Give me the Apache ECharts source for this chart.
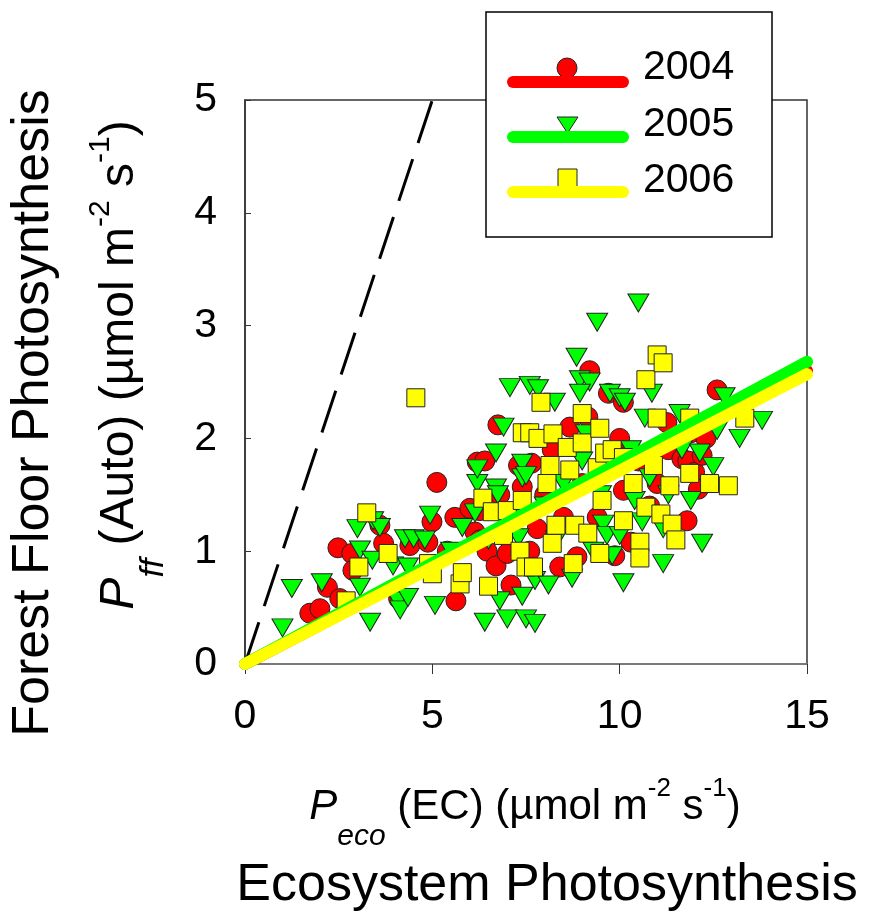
<!DOCTYPE html>
<html>
<head>
<meta charset="utf-8">
<script src="https://cdn.jsdelivr.net/npm/echarts@6/dist/echarts.min.js"></script>
<style>
  html, body { margin: 0; padding: 0; background: #fff; }
  #chart { width: 869px; height: 916px; }
</style>
</head>
<body>
<div id="chart"></div>
<script>
// P_eco (EC) vs P_ff (Auto), one point list per year
var years = ['2004', '2005', '2006'];

var pts2004 = [
  [1.73,0.45],[2.0,0.49],[2.2,0.68],[2.53,0.58],[2.48,1.03],[2.85,0.98],[2.88,0.83],[3.6,1.23],
  [3.7,1.07],[4.1,0.58],[4.4,1.05],[4.88,1.08],[4.99,1.26],[5.12,1.61],[5.63,0.56],[5.4,1.0],
  [5.6,1.3],[6.0,1.38],[6.27,1.36],[6.14,1.17],[6.27,1.1],[6.46,1.0],[6.7,0.87],[7.0,0.98],
  [7.1,0.7],[6.2,1.79],[6.4,1.8],[6.75,2.12],[6.8,1.5],[7.3,1.76],[7.4,1.57],[7.65,1.78],
  [7.6,1.0],[7.8,1.2],[8.0,1.5],[8.2,1.9],[8.5,1.3],[8.4,0.86],[8.86,0.95],[8.67,2.1],
  [9.0,1.6],[9.15,2.19],[9.2,2.6],[9.4,1.3],[9.5,1.7],[9.7,2.4],[9.87,0.96],[10.0,2.0],
  [10.1,2.32],[10.1,1.54],[10.3,1.08],[10.5,1.8],[10.8,1.4],[11.0,1.6],[11.26,2.14],[11.3,1.9],
  [11.66,1.82],[11.82,1.8],[11.8,1.27],[11.9,2.05],[12.0,1.7],[12.1,1.55],[12.2,1.85],[12.3,2.0],
  [12.6,2.43]
];

var pts2005 = [
  [1.0,0.32],[1.25,0.67],[2.05,0.72],[3.0,1.2],[3.07,1.01],[3.07,0.68],[3.34,0.37],[3.4,0.92],
  [3.42,1.27],[3.6,1.21],[3.95,0.87],[4.08,0.56],[4.14,0.48],[4.27,1.11],[4.35,0.86],[4.35,0.59],
  [4.5,1.11],[4.8,1.1],[4.94,1.32],[5.07,0.52],[5.5,1.0],[5.8,1.21],[6.14,1.34],[6.2,1.6],
  [6.2,1.73],[6.4,0.37],[6.5,1.1],[6.7,1.87],[6.7,1.56],[6.75,1.5],[6.8,0.56],[6.9,2.1],
  [7.0,0.4],[7.07,2.45],[7.2,1.3],[7.3,1.12],[7.4,1.78],[7.4,1.65],[7.4,0.6],[7.5,0.4],
  [7.5,1.67],[7.6,2.47],[7.74,0.74],[7.74,0.36],[7.82,2.44],[8.0,1.4],[8.1,0.7],[8.27,2.32],
  [8.3,1.1],[8.5,1.6],[8.73,0.76],[8.85,2.72],[8.94,2.52],[9.2,2.5],[8.94,2.4],[9.0,1.8],
  [9.1,2.04],[9.3,1.0],[9.4,3.03],[9.5,1.5],[9.56,1.24],[9.66,1.14],[9.74,2.4],[9.8,0.96],
  [10.0,2.36],[10.0,1.14],[10.1,0.72],[10.14,2.32],[10.3,1.9],[10.4,1.45],[10.5,3.2],[10.6,1.26],
  [10.67,2.18],[10.8,1.65],[10.86,2.4],[11.16,1.2],[11.16,0.89],[11.3,1.5],[11.6,2.22],[11.66,1.9],
  [11.9,1.45],[12.14,1.87],[12.2,1.07],[12.5,1.75],[12.6,2.07],[12.8,2.37],[13.2,2.0],[13.8,2.16]
];

var pts2006 = [
  [2.7,0.56],[3.04,0.86],[3.25,1.34],[3.82,0.98],[4.56,2.36],[4.9,0.89],[5.0,0.8],[5.74,0.71],
  [5.8,0.81],[6.35,1.47],[6.5,0.69],[6.6,1.35],[6.9,1.14],[7.0,1.36],[7.34,1.0],[7.4,2.05],
  [7.4,1.45],[7.5,0.86],[7.6,2.05],[7.7,0.86],[7.82,2.0],[7.9,2.32],[8.06,1.6],[8.14,1.76],
  [8.2,1.07],[8.22,2.04],[8.3,1.23],[8.6,1.92],[8.67,1.72],[8.76,0.89],[8.8,1.23],[9.0,2.22],
  [9.0,1.96],[9.15,1.16],[9.4,1.74],[9.47,2.09],[9.47,0.98],[9.53,1.45],[9.6,1.87],[9.8,1.9],
  [10.1,1.83],[10.1,1.27],[10.36,1.6],[10.54,1.08],[10.54,0.94],[10.7,2.52],[10.7,1.39],[10.9,1.76],
  [11.0,2.74],[11.16,2.67],[11.0,2.18],[11.1,1.33],[11.34,1.58],[11.4,1.24],[11.5,1.1],[11.87,2.18],
  [11.87,1.69],[12.4,1.6],[12.9,1.58],[13.34,2.18]
];

// fitted lines (start and end points) and the 1:1 line
var fit2004 = [[0, 0], [15, 2.6]];
var fit2005 = [[0, 0], [15, 2.68]];
var fit2006 = [[0, 0], [15, 2.57]];
var oneToOne = [[0, 0], [5, 5]];

var xTicks = [0, 5, 10, 15];
var yTicks = [0, 1, 2, 3, 4, 5];

var colors = ['#ff0000', '#00ff00', '#ffff00'];
var FONT = 'Liberation Sans, Arial, sans-serif';

var chart = echarts.init(document.getElementById('chart'), null, { renderer: 'canvas' });

function scatter(name, data, symbol, size, color, rotate) {
  return {
    name: name, type: 'scatter', data: data,
    symbol: symbol, symbolSize: size, symbolRotate: rotate || 0,
    itemStyle: { color: color, borderColor: '#222', borderWidth: 1, opacity: 1 },
    emphasis: { disabled: true }, silent: true
  };
}
function fit(name, data, color) {
  return {
    name: name, type: 'line', data: data, symbol: 'none', clip: false,
    lineStyle: { color: color, width: 12, cap: 'round' }, silent: true
  };
}

// rich styles for titles with italic P, subscripts and superscripts
function titleRich(main, sub, sup, subPad) {
  return {
    i: { fontFamily: FONT, fontSize: main, fontStyle: 'italic', lineHeight: main + 2, verticalAlign: 'top', padding: [10, 0, 0, 0], color: '#000' },
    n: { fontFamily: FONT, fontSize: main, lineHeight: main + 2, verticalAlign: 'top', padding: [10, 0, 0, 0], color: '#000' },
    sub: { fontFamily: FONT, fontSize: sub, fontStyle: 'italic', lineHeight: sub, verticalAlign: 'top', padding: [subPad, 0, 0, 0], color: '#000' },
    sup: { fontFamily: FONT, fontSize: sup, lineHeight: sup, verticalAlign: 'top', padding: [0, 0, 0, 0], color: '#000' }
  };
}

var legendY = [82, 137, 192];

var option = {
  backgroundColor: '#fff',
  animation: false,
  grid: { left: 245, right: 62, top: 100, bottom: 252, show: true, borderColor: '#333', borderWidth: 1.5 },
  xAxis: {
    type: 'value', min: 0, max: 15, interval: 5,
    axisLine: { show: true, lineStyle: { color: '#808080', width: 1.5 } },
    axisTick: { show: true, length: 10, lineStyle: { color: '#333' } },
    splitLine: { show: false },
    axisLabel: {
      fontFamily: FONT, fontSize: 41, color: '#000', margin: 32,
      customValues: xTicks, formatter: function (v) { return v; }
    }
  },
  yAxis: {
    type: 'value', min: 0, max: 5, interval: 1,
    axisLine: { show: true, lineStyle: { color: '#333', width: 1.5 } },
    axisTick: { show: true, inside: true, length: 6, lineStyle: { color: '#333' } },
    splitLine: { show: false },
    axisLabel: {
      fontFamily: FONT, fontSize: 41, color: '#000', margin: 28,
      customValues: yTicks, formatter: function (v) { return v; }
    }
  },
  series: [
    scatter('2004', pts2004, 'circle', 20, colors[0]),
    fit('fit2004', fit2004, colors[0]),
    scatter('2005', pts2005, 'triangle', [21, 18], colors[1], 180),
    fit('fit2005', fit2005, colors[1]),
    scatter('2006', pts2006, 'rect', 18, colors[2]),
    fit('fit2006', fit2006, colors[2]),
    {
      name: '1:1', type: 'line', data: oneToOne, symbol: 'none',
      lineStyle: { color: '#000', width: 3, type: [44, 17] }, silent: true, z: 1
    }
  ],
  graphic: [
    // titles
    {
      type: 'text', x: 34, y: 413, rotation: Math.PI / 2,
      style: { text: 'Forest Floor Photosynthesis', font: '52px ' + FONT, fill: '#000', align: 'center', verticalAlign: 'middle' }
    },
    {
      type: 'text', x: 86, y: 365, rotation: Math.PI / 2,
      style: {
        text: '{i|P}{sub|ff}{n| (Auto) (µmol m}{sup|-2}{n| s}{sup|-1}{n|)}',
        rich: titleRich(48, 34, 30, 51), align: 'center', verticalAlign: 'top'
      }
    },
    {
      type: 'text', x: 525, y: 776,
      style: {
        text: '{i|P}{sub|eco}{n| (EC) (µmol m}{sup|-2}{n| s}{sup|-1}{n|)}',
        rich: titleRich(42, 30, 26, 46), align: 'center', verticalAlign: 'top'
      }
    },
    {
      type: 'text', x: 547, y: 886,
      style: { text: 'Ecosystem Photosynthesis', font: '52px ' + FONT, fill: '#000', align: 'center', verticalAlign: 'middle' }
    },
    // legend box
    {
      type: 'rect', shape: { x: 486, y: 12, width: 286, height: 225 }, z: 100,
      style: { fill: '#fff', stroke: '#000', lineWidth: 1.5 }
    },
    { type: 'circle', shape: { cx: 567, cy: 68, r: 10 }, z: 101, style: { fill: colors[0], stroke: '#222', lineWidth: 1 } },
    { type: 'polygon', shape: { points: [[557, 117], [578, 117], [567.5, 133]] }, z: 101, style: { fill: colors[1], stroke: '#222', lineWidth: 1 } },
    { type: 'rect', shape: { x: 558, y: 169, width: 19, height: 19 }, z: 101, style: { fill: colors[2], stroke: '#222', lineWidth: 1 } },
    { type: 'line', shape: { x1: 513, y1: legendY[0], x2: 623, y2: legendY[0] }, z: 102, style: { stroke: colors[0], lineWidth: 12, lineCap: 'round' } },
    { type: 'line', shape: { x1: 513, y1: legendY[1], x2: 623, y2: legendY[1] }, z: 102, style: { stroke: colors[1], lineWidth: 12, lineCap: 'round' } },
    { type: 'line', shape: { x1: 513, y1: legendY[2], x2: 623, y2: legendY[2] }, z: 102, style: { stroke: colors[2], lineWidth: 12, lineCap: 'round' } },
    { type: 'text', x: 643, y: 68, z: 102, style: { text: years[0], font: '41px ' + FONT, fill: '#000', verticalAlign: 'middle' } },
    { type: 'text', x: 643, y: 125, z: 102, style: { text: years[1], font: '41px ' + FONT, fill: '#000', verticalAlign: 'middle' } },
    { type: 'text', x: 643, y: 181, z: 102, style: { text: years[2], font: '41px ' + FONT, fill: '#000', verticalAlign: 'middle' } }
  ]
};

chart.setOption(option);
</script>
</body>
</html>
